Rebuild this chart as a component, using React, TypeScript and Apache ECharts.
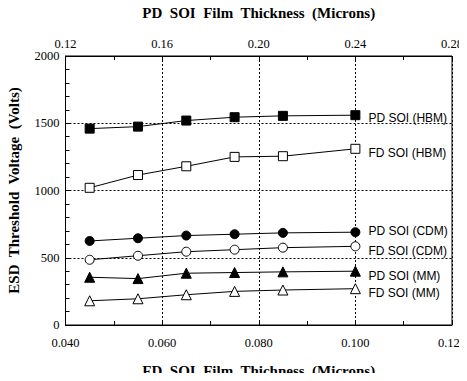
import React, { useEffect, useRef } from "react";
import * as echarts from "echarts";

const fdThickness = [0.045, 0.055, 0.065, 0.075, 0.085, 0.1];
const pdHBM = [1460, 1475, 1520, 1545, 1555, 1560];
const fdHBM = [1020, 1115, 1180, 1250, 1255, 1310];
const pdCDM = [625, 645, 665, 675, 685, 690];
const fdCDM = [485, 515, 545, 560, 575, 585];
const pdMM = [355, 345, 385, 390, 395, 400];
const fdMM = [180, 195, 225, 250, 260, 270];

const seriesDefs = [
  { name: "PD SOI (HBM)", data: pdHBM, symbol: "rect", filled: true, size: 9, dy: 3 },
  { name: "FD SOI (HBM)", data: fdHBM, symbol: "rect", filled: false, size: 9, dy: 4 },
  { name: "PD SOI (CDM)", data: pdCDM, symbol: "circle", filled: true, size: 9, dy: -1 },
  { name: "FD SOI (CDM)", data: fdCDM, symbol: "circle", filled: false, size: 9, dy: 5 },
  { name: "PD SOI (MM)", data: pdMM, symbol: "triangle", filled: true, size: 10, dy: 5 },
  { name: "FD SOI (MM)", data: fdMM, symbol: "triangle", filled: false, size: 10, dy: 4 },
];

const serif = "Liberation Serif";
const sans = "Liberation Sans";

export default function App() {
  const ref = useRef<HTMLDivElement>(null);
  useEffect(() => {
    if (!ref.current) return;
    const chart = echarts.init(ref.current, null, { renderer: "svg" });
    const gridLine = { show: true, lineStyle: { color: "#000", type: [2, 2], width: 1 } };
    const tickLabel = { fontFamily: serif, fontSize: 12.5, color: "#000" };
    const title = { fontFamily: serif, fontWeight: "bold", fontSize: 15, color: "#000" };
    chart.setOption({
      animation: false,
      backgroundColor: "#fff",
      textStyle: { fontFamily: serif },
      grid: {
        left: 65.5,
        right: 15,
        top: 56,
        bottom: 56,
        show: true,
        borderColor: "#000",
        borderWidth: 1,
        outerBoundsMode: "none",
        containLabel: false,
      },
      xAxis: [
        {
          type: "value",
          position: "bottom",
          min: 0.04,
          max: 0.12,
          interval: 0.02,
          name: "FD  SOI  Film  Thichness  (Microns)",
          nameLocation: "middle",
          nameGap: 38,
          nameMoveOverlap: false,
          nameTextStyle: title,
          axisLine: { show: true, lineStyle: { color: "#000", width: 1 } },
          axisTick: { show: true, inside: true, length: 5, lineStyle: { color: "#000" } },
          minorTick: { show: true, splitNumber: 2, length: 4, lineStyle: { color: "#000" } },
          axisLabel: { ...tickLabel, margin: 11, formatter: (v: number) => v.toFixed(3) },
          splitLine: { ...gridLine },
        },
        {
          type: "value",
          position: "top",
          min: 0.12,
          max: 0.28,
          interval: 0.04,
          name: "PD  SOI  Film  Thickness  (Microns)",
          nameLocation: "middle",
          nameGap: 36,
          nameMoveOverlap: false,
          nameTextStyle: title,
          axisLine: { show: true, lineStyle: { color: "#000", width: 1 } },
          axisTick: { show: true, inside: true, length: 5, lineStyle: { color: "#000" } },
          minorTick: { show: true, splitNumber: 2, length: 4, lineStyle: { color: "#000" } },
          axisLabel: { ...tickLabel, margin: 6, formatter: (v: number) => v.toFixed(2) },
          splitLine: { show: false },
        },
      ],
      yAxis: [
        {
          type: "value",
          min: 0,
          max: 2000,
          interval: 500,
          name: "ESD  Threshold  Voltage  (Volts)",
          nameLocation: "middle",
          nameGap: 44,
          nameMoveOverlap: false,
          nameTextStyle: title,
          axisLine: { show: true, lineStyle: { color: "#000", width: 1 } },
          axisTick: { show: true, inside: true, length: 5, lineStyle: { color: "#000" } },
          minorTick: { show: true, splitNumber: 5, length: 4, lineStyle: { color: "#000" } },
          axisLabel: { ...tickLabel, margin: 6, formatter: (v: number) => String(v) },
          splitLine: { ...gridLine },
        },
      ],
      series: seriesDefs.map((s) => ({
        type: "line",
        name: s.name,
        xAxisIndex: 0,
        yAxisIndex: 0,
        data: fdThickness.map((x, i) => [x, s.data[i]]),
        symbol: s.symbol,
        symbolSize: s.size,
        showAllSymbol: true,
        lineStyle: { color: "#000", width: 1 },
        itemStyle: { color: s.filled ? "#000" : "#fff", borderColor: "#000", borderWidth: 1 },
        emphasis: { disabled: true },
        endLabel: {
          show: true,
          formatter: s.name,
          distance: 0,
          offset: [13, s.dy],
          color: "#000",
          fontFamily: sans,
          fontSize: 12,
        },
        z: 3,
      })),
    });
    return () => chart.dispose();
  }, []);
  return <div ref={ref} style={{ width: 467, height: 381, margin: -8 }} />;
}
